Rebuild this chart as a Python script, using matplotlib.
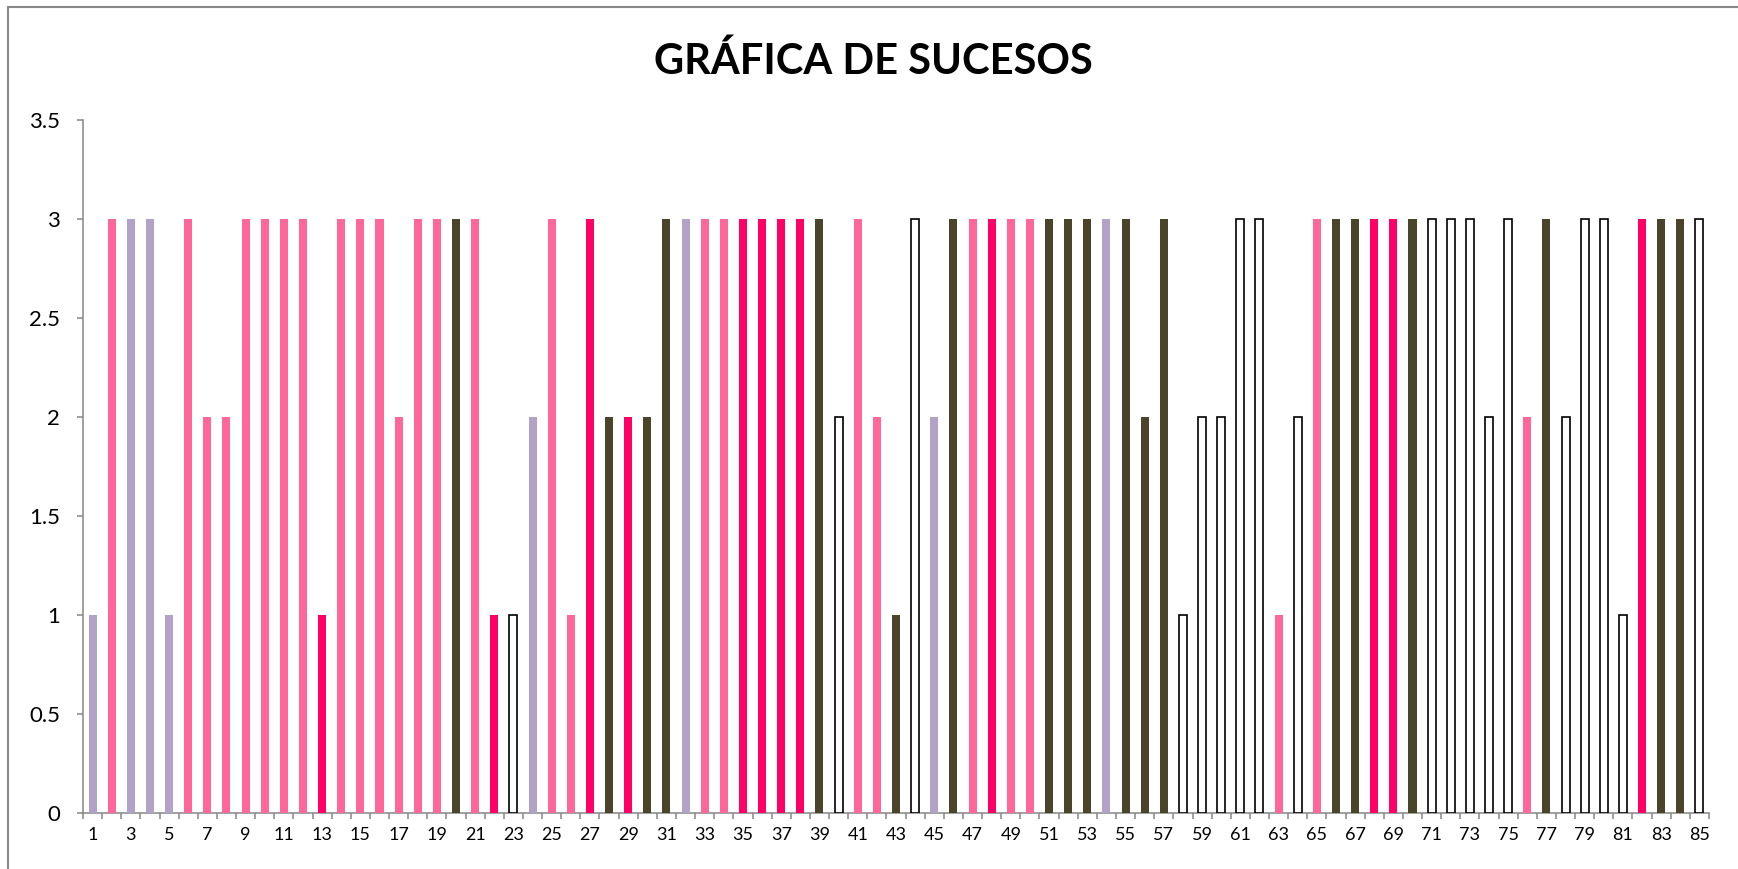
import numpy as np
import matplotlib.pyplot as plt
from matplotlib.patches import Rectangle

plt.rcParams['font.family'] = ['Lato', 'DejaVu Sans']

# datos: suceso, valor y grupo (color) de cada barra
sucesos = list(range(1, 86))
valores = [1, 3, 3, 3, 1, 3, 2, 2, 3, 3,
           3, 3, 1, 3, 3, 3, 2, 3, 3, 3,
           3, 1, 1, 2, 3, 1, 3, 2, 2, 2,
           3, 3, 3, 3, 3, 3, 3, 3, 3, 2,
           3, 2, 1, 3, 2, 3, 3, 3, 3, 3,
           3, 3, 3, 3, 3, 2, 3, 1, 2, 2,
           3, 3, 1, 2, 3, 3, 3, 3, 3, 3,
           3, 3, 3, 2, 3, 2, 3, 2, 3, 3,
           1, 3, 3, 3, 3]
grupos = list("LPLLLPPPPP" "PPHPPPPPPO" "PHWLPPHOHO" "OLPPHHHHOW"
              "PPOWLOPHPP" "OOOLOOOWWW" "WWPWPOOHHO" "WWWWWPOWWW" "WHOOW")
y_ticks = [0, 0.5, 1, 1.5, 2, 2.5, 3, 3.5]
y_labels = ["0", "0.5", "1", "1.5", "2", "2.5", "3", "3.5"]

colores = {'L': '#B3A2C7', 'P': '#FF6699', 'H': '#FF0066',
           'O': '#4A452A', 'W': '#FFFFFF'}

W, H = 1738, 869
fig = plt.figure(figsize=(W / 100, H / 100), dpi=100, facecolor='w')
ax = fig.add_axes([83 / W, (H - 813) / H, (1709 - 83) / W, (813 - 120) / H])

facec = [colores[g] for g in grupos]
edgec = ['black' if g == 'W' else colores[g] for g in grupos]
lw = [1.2 if g == 'W' else 0 for g in grupos]
ax.bar(sucesos, valores, width=0.42, color=facec, edgecolor=edgec,
       linewidth=lw, zorder=3)

ax.set_xlim(0.5, 85.5)
ax.set_ylim(0, 3.5)

gris = '#868686'
for s in ['top', 'right']:
    ax.spines[s].set_visible(False)
for s in ['left', 'bottom']:
    ax.spines[s].set_color(gris)
    ax.spines[s].set_linewidth(1.1)

ax.set_yticks(y_ticks)
ax.set_yticklabels(y_labels)
ax.tick_params(axis='y', direction='out', length=4.3, width=1.1,
               color=gris, labelsize=16, pad=12)

ax.set_xticks(sucesos[::2])
ax.set_xticklabels([str(s) for s in sucesos[::2]])
ax.set_xticks(np.arange(0.5, 86, 1), minor=True)
ax.tick_params(axis='x', which='major', length=0, labelsize=13, pad=10)
ax.tick_params(axis='x', which='minor', direction='out', length=4.3,
               width=1.1, color=gris)

fig.text(873 / W, 1 - 61 / H, 'GRÁFICA DE SUCESOS', ha='center',
         va='center', fontsize=30, fontweight='bold')

# marco del gráfico (recortado a la derecha y abajo)
fig.patches.append(Rectangle((8 / W, -0.1), 1.2, 1.1 - 7 / H,
                             transform=fig.transFigure, fill=False,
                             edgecolor='#898989', linewidth=1.5))

plt.savefig('out.png', dpi=100)
